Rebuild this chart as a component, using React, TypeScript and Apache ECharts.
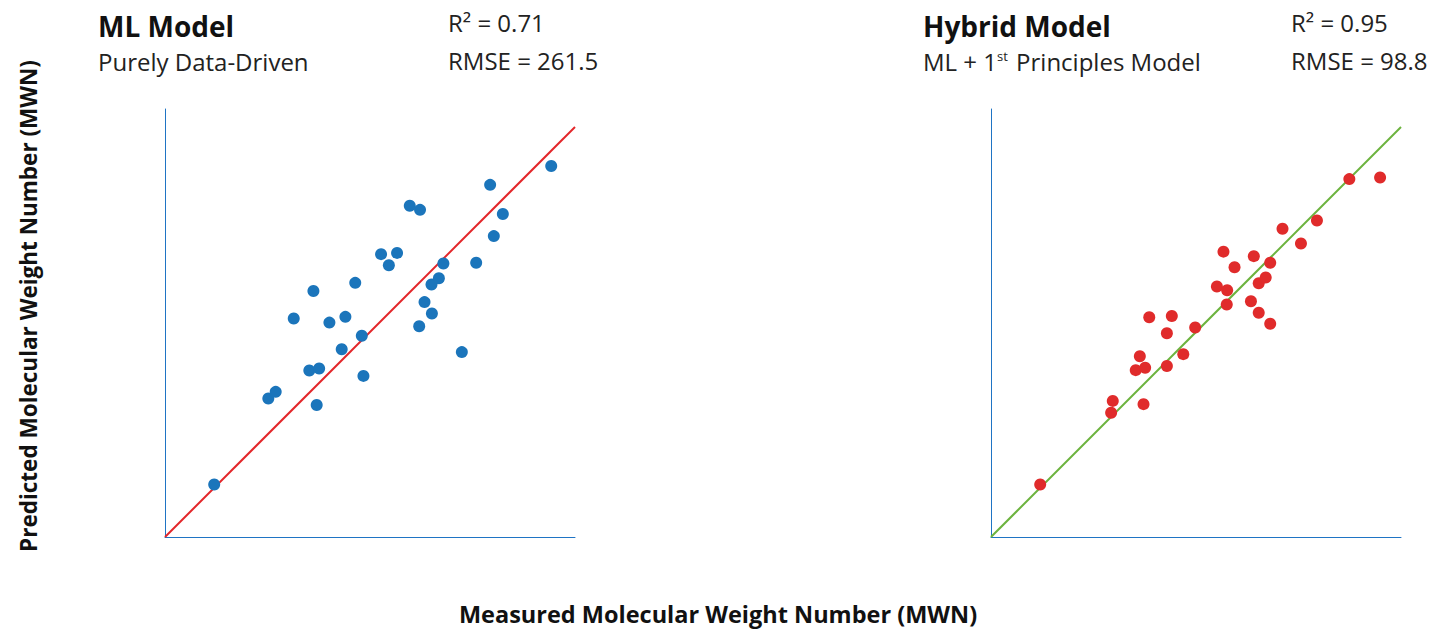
import React, { useEffect, useRef } from "react";
import * as echarts from "echarts";

// Measured (x) vs predicted (y) values, arbitrary MWN units
const mlMeasured = [120, 252, 270, 370, 352, 376, 431, 484, 480, 314, 362, 401, 440, 464, 527, 566, 546, 597, 622, 620, 633, 651, 650, 668, 679, 724, 759, 793, 824, 802, 942];
const mlPredicted = [128, 338, 354, 322, 406, 411, 458, 393, 491, 533, 600, 523, 537, 620, 690, 693, 663, 808, 798, 514, 573, 545, 616, 631, 667, 451, 669, 859, 788, 734, 905];

const hybridMeasured = [120, 293, 297, 372, 353, 376, 363, 429, 469, 429, 386, 441, 498, 551, 576, 575, 567, 594, 641, 634, 653, 681, 653, 670, 681, 711, 756, 795, 874, 949];
const hybridPredicted = [128, 303, 332, 324, 407, 413, 441, 417, 446, 497, 536, 539, 511, 611, 602, 567, 696, 658, 685, 575, 547, 520, 619, 633, 669, 752, 716, 772, 873, 877];

const identityLine = [[0, 0], [1000, 1000]];

const panelTitles = ["ML Model", "Hybrid Model"];
const panelSubtitles = ["Purely Data-Driven", "ML + 1{sup|st} Principles Model"];
const panelStats = [
  ["R² = 0.71", "RMSE = 261.5"],
  ["R² = 0.95", "RMSE = 98.8"],
];
const xAxisTitle = "Measured Molecular Weight Number (MWN)";
const yAxisTitle = "Predicted Molecular Weight Number (MWN)";

const FONT = "'Open Sans', 'Noto Sans', sans-serif";
const AXIS_BLUE = "#1f74c4";

export default function App() {
  const ref = useRef<HTMLDivElement>(null);

  useEffect(() => {
    if (!ref.current) return;
    const chart = echarts.init(ref.current, undefined, { renderer: "svg" });

    const zip = (a: number[], b: number[]) => a.map((v, i) => [v, b[i]]);

    const axisX = (gridIndex: number) => ({
      type: "value" as const,
      gridIndex,
      min: 0,
      max: 1000,
      axisLine: { show: true, lineStyle: { color: AXIS_BLUE, width: 1 } },
      axisTick: { show: false },
      axisLabel: { show: false },
      splitLine: { show: false },
    });
    const axisY = (gridIndex: number) => ({
      type: "value" as const,
      gridIndex,
      min: 0,
      max: 1044,
      axisLine: { show: true, lineStyle: { color: AXIS_BLUE, width: 1 } },
      axisTick: { show: false },
      axisLabel: { show: false },
      splitLine: { show: false },
    });

    const text = (x: number, y: number, t: string, size: number, weight: string | number, extra: any = {}) => ({
      type: "text",
      x,
      y,
      rotation: extra.rotation || 0,
      style: {
        text: t,
        fontFamily: FONT,
        fontSize: size,
        fontWeight: weight,
        fill: "#111",
        verticalAlign: "middle",
        align: extra.align || "left",
        ...(extra.styleExtra || {}),
      },
    });

    const plain = { styleExtra: { fill: "#222" } };

    chart.setOption({
      animation: false,
      backgroundColor: "#ffffff",
      grid: [
        { left: 165, top: 109, width: 410, height: 428 },
        { left: 991, top: 109, width: 410, height: 428 },
      ],
      xAxis: [axisX(0), axisX(1)],
      yAxis: [axisY(0), axisY(1)],
      series: [
        {
          type: "line",
          xAxisIndex: 0,
          yAxisIndex: 0,
          data: identityLine,
          symbol: "none",
          lineStyle: { color: "#e3262a", width: 2 },
          z: 2,
        },
        {
          type: "scatter",
          xAxisIndex: 0,
          yAxisIndex: 0,
          data: zip(mlMeasured, mlPredicted),
          symbolSize: 12,
          itemStyle: { color: "#1b75bb", opacity: 1 },
          z: 3,
        },
        {
          type: "line",
          xAxisIndex: 1,
          yAxisIndex: 1,
          data: identityLine,
          symbol: "none",
          lineStyle: { color: "#6cb33e", width: 2 },
          z: 2,
        },
        {
          type: "scatter",
          xAxisIndex: 1,
          yAxisIndex: 1,
          data: zip(hybridMeasured, hybridPredicted),
          symbolSize: 12,
          itemStyle: { color: "#e02b2b", opacity: 1 },
          z: 3,
        },
      ],
      graphic: [
        text(98, 26, panelTitles[0], 28, "bold"),
        text(98, 61, panelSubtitles[0], 24, "normal", plain),
        text(448, 22.5, panelStats[0][0], 24, "normal", plain),
        text(448, 60, panelStats[0][1], 24, "normal", plain),
        text(923, 26, panelTitles[1], 28, "bold"),
        text(923, 61, panelSubtitles[1], 24, "normal", {
          styleExtra: {
            fill: "#222",
            rich: {
              sup: { fontSize: 13, fontFamily: FONT, fill: "#222", verticalAlign: "top", lineHeight: 13, padding: [0, 2, 0, 0] },
            },
          },
        }),
        text(1291, 22.5, panelStats[1][0], 24, "normal", plain),
        text(1291, 60, panelStats[1][1], 24, "normal", plain),
        text(718, 614, xAxisTitle, 23.5, "bold", { align: "center" }),
        text(28.5, 306, yAxisTitle, 22.5, "bold", { align: "center", rotation: Math.PI / 2 }),
      ],
    });

    return () => chart.dispose();
  }, []);

  return (
    <div
      ref={ref}
      style={{ position: "absolute", left: 0, top: 0, width: 1441, height: 631 }}
    />
  );
}
